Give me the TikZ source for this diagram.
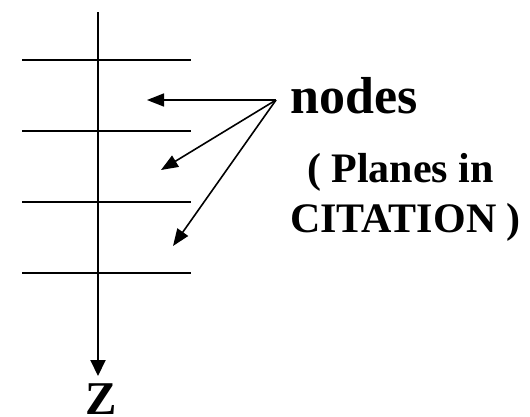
\documentclass[tikz,border=0pt]{standalone}
\usepackage{fontspec}
\setmainfont{Liberation Serif}
\usetikzlibrary{arrows.meta}
\begin{document}
\begin{tikzpicture}[x=1pt,y=-1pt,
  rule/.style={line width=2pt},
  ptr/.style={line width=1.6pt,-{Triangle[length=17pt,width=13pt]}},
  lbl/.style={inner sep=0pt,font=\bfseries}]
\useasboundingbox (0,0) rectangle (530,416);
% axis
\coordinate (top) at (98,12);
\coordinate (tip) at (98,376);
\draw[line width=2pt,-{Triangle[length=16pt,width=15pt]}] (top) -- (tip);
% planes
\foreach \i/\y in {1/60,2/131,3/202,4/273}{
  \coordinate (l\i a) at (22,\y);
  \coordinate (l\i b) at (191,\y);
  \draw[rule] (l\i a) -- (l\i b);
}
% pointers
\coordinate (src) at (276,100);
\coordinate (t1) at (147,100);
\coordinate (t2) at (161,170);
\coordinate (t3) at (173,246);
\draw[ptr] (src) -- (t1);
\draw[ptr] (src) -- (t2);
\draw[ptr] (src) -- (t3);
% labels
\node[lbl,anchor=base west,font=\bfseries\fontsize{52}{52}\selectfont] (nodes) at (290,113) {nodes};
\node[lbl,anchor=base,font=\bfseries\fontsize{42}{42}\selectfont] (pl1) at (400.5,182) {( Planes in};
\node[lbl,anchor=base,font=\bfseries\fontsize{42}{42}\selectfont] (pl2) at (405.5,232) {CITATION )};
\node[lbl,anchor=base,font=\bfseries\fontsize{47}{47}\selectfont] (z) at (101,414) {Z};
\end{tikzpicture}
\end{document}
